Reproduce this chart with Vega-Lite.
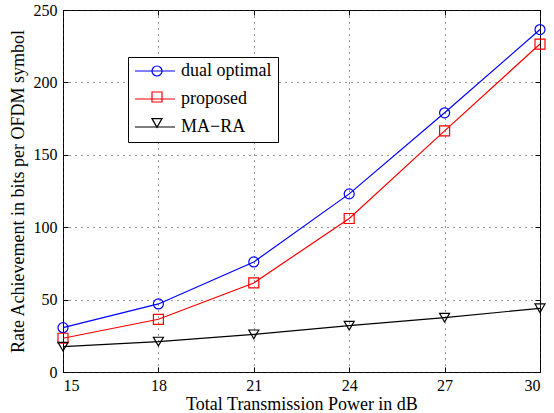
{
  "$schema": "https://vega.github.io/schema/vega-lite/v6.json",
  "width": 477,
  "height": 362,
  "autosize": "none",
  "padding": {"left": 63, "top": 10, "right": 14, "bottom": 41},
  "background": "white",
  "config": {
    "font": "Liberation Serif",
    "view": {"stroke": "black", "strokeWidth": 1},
    "axis": {
      "labelFont": "Liberation Serif",
      "labelFontSize": 16,
      "labelColor": "black",
      "titleFont": "Liberation Serif",
      "titleFontSize": 18,
      "titleFontWeight": "normal",
      "titleColor": "black",
      "domain": false,
      "tickColor": "black",
      "tickSize": -5,
      "gridColor": "#333333",
      "gridDash": [1, 5],
      "gridWidth": 1,
      "gridOpacity": 1
    }
  },
  "data": {
    "values": [
      {"series": "dual optimal", "power": 15, "rate": 30.6},
      {"series": "dual optimal", "power": 18, "rate": 47},
      {"series": "dual optimal", "power": 21, "rate": 76},
      {"series": "dual optimal", "power": 24, "rate": 123},
      {"series": "dual optimal", "power": 27, "rate": 179},
      {"series": "dual optimal", "power": 30, "rate": 236.5},
      {"series": "proposed", "power": 15, "rate": 23.3},
      {"series": "proposed", "power": 18, "rate": 36.4},
      {"series": "proposed", "power": 21, "rate": 61.5},
      {"series": "proposed", "power": 24, "rate": 106},
      {"series": "proposed", "power": 27, "rate": 166.5},
      {"series": "proposed", "power": 30, "rate": 226.5},
      {"series": "MA−RA", "power": 15, "rate": 17.5},
      {"series": "MA−RA", "power": 18, "rate": 21},
      {"series": "MA−RA", "power": 21, "rate": 26},
      {"series": "MA−RA", "power": 24, "rate": 32},
      {"series": "MA−RA", "power": 27, "rate": 37.5},
      {"series": "MA−RA", "power": 30, "rate": 44}
    ]
  },
  "layer": [
    {
      "mark": {"type": "line", "strokeWidth": 1.2},
      "encoding": {
        "x": {
          "field": "power", "type": "quantitative",
          "scale": {"domain": [15, 30], "nice": false, "zero": false},
          "axis": {"values": [15, 18, 21, 24, 27, 30], "title": "Total Transmission Power in dB", "grid": true, "labelPadding": 10, "titlePadding": 2}
        },
        "y": {
          "field": "rate", "type": "quantitative",
          "scale": {"domain": [0, 250], "nice": false},
          "axis": {"values": [0, 50, 100, 150, 200, 250], "title": "Rate Achievement in bits per OFDM symbol", "grid": true, "labelPadding": 11, "titlePadding": 6}
        },
        "color": {
          "field": "series", "type": "nominal",
          "scale": {"domain": ["dual optimal", "proposed", "MA−RA"], "range": ["#0000ff", "#ff0000", "#000000"]},
          "legend": {
            "orient": "none", "legendX": 65, "legendY": 47, "title": null,
            "symbolType": "stroke", "symbolSize": 1600, "symbolStrokeWidth": 1.2,
            "clipHeight": 16, "rowPadding": 10, "padding": 6,
            "labelFont": "Liberation Serif", "labelFontSize": 18, "labelColor": "black", "labelOffset": 5,
            "strokeColor": "black", "fillColor": "white",
            "zindex": 0
          }
        }
      }
    },
    {
      "mark": {"type": "point", "filled": false, "size": 100, "strokeWidth": 1.2, "opacity": 1},
      "encoding": {
        "x": {
          "field": "power", "type": "quantitative",
          "axis": {"orient": "top", "values": [15, 18, 21, 24, 27, 30], "labels": false, "title": null, "grid": false}
        },
        "y": {
          "field": "rate", "type": "quantitative",
          "axis": {"orient": "right", "values": [0, 50, 100, 150, 200, 250], "labels": false, "title": null, "grid": false}
        },
        "color": {
          "field": "series", "type": "nominal",
          "legend": {
            "orient": "none", "legendX": 88, "legendY": 53, "title": null,
            "symbolStrokeWidth": 1.2, "symbolSize": 100, "clipHeight": 16, "rowPadding": 10, "padding": 0,
            "labelExpr": "''", "labelFontSize": 1,
            "zindex": 1
          }
        },
        "shape": {
          "field": "series", "type": "nominal",
          "scale": {"domain": ["dual optimal", "proposed", "MA−RA"], "range": ["circle", "square", "triangle-down"]},
          "legend": {
            "orient": "none", "legendX": 88, "legendY": 53, "title": null,
            "symbolStrokeWidth": 1.2, "symbolSize": 100, "clipHeight": 16, "rowPadding": 10, "padding": 0,
            "labelExpr": "''", "labelFontSize": 1,
            "zindex": 1
          }
        }
      }
    }
  ],
  "resolve": {
    "axis": {"x": "independent", "y": "independent"},
    "legend": {"color": "independent", "shape": "independent"}
  }
}
